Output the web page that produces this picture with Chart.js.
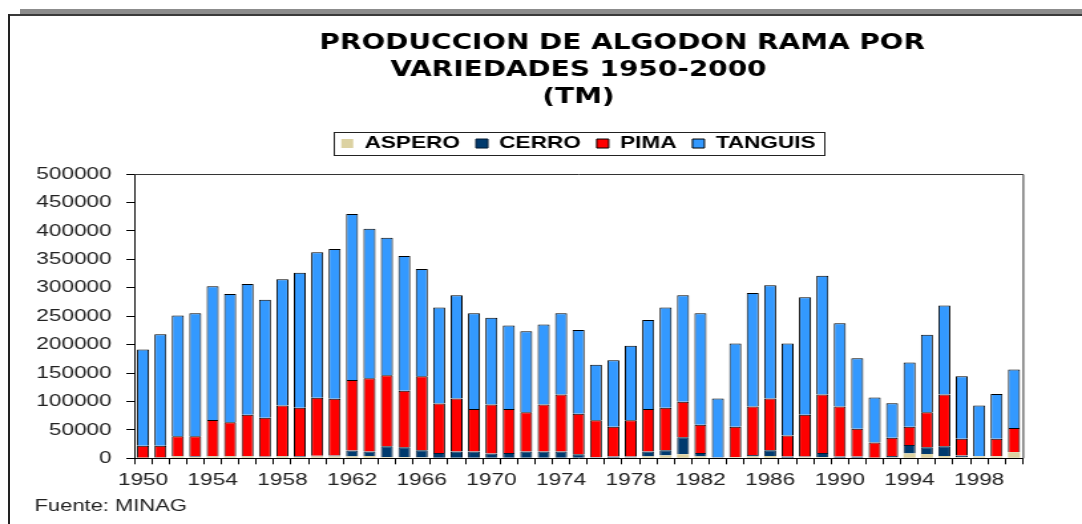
<!DOCTYPE html>
<html><head><meta charset="utf-8">
<script src="https://cdn.jsdelivr.net/npm/chart.js@4"></script>
<style>
html,body{margin:0;padding:0;background:#fff;overflow:hidden;width:1082px;height:524px;}
#wrap{position:absolute;left:0;top:0;width:814px;height:524px;transform:scaleX(1.32924);transform-origin:0 0;}
.f{position:absolute;}
</style></head><body>
<div id="wrap"><canvas id="c" width="814" height="524"></canvas></div>
<div class="f" style="left:20px;top:9px;width:1062px;height:5px;background:#8c8c8c"></div>
<div class="f" style="left:8px;top:14px;width:1074px;height:2px;background:#3a3a3a"></div>
<div class="f" style="left:8px;top:14px;width:2px;height:510px;background:#222"></div>
<script>
const years = ['1950','1951','1952','1953','1954','1955','1956','1957','1958','1959',
  '1960','1961','1962','1963','1964','1965','1966','1967','1968','1969',
  '1970','1971','1972','1973','1974','1975','1976','1977','1978','1979',
  '1980','1981','1982','1983','1984','1985','1986','1987','1988','1989',
  '1990','1991','1992','1993','1994','1995','1996','1997','1998','1999','2000'];
const aspero = [500,500,3000,2500,3000,3000,3000,2000,3000,2500,
  3000,3000,3000,4000,2000,2000,1500,1000,1000,1000,
  1000,1000,1000,1000,1000,1000,1000,1000,1500,3000,
  5000,7100,3000,1000,2000,3000,4000,1000,2000,2000,
  1000,1000,500,1500,8300,7700,4000,2000,3000,3000,10600];
const cerro = [500,1000,1000,1000,1000,1000,1000,1000,1000,1000,
  1500,2000,10600,7800,19300,17500,12700,8500,10900,10900,
  7300,8500,10900,10900,10900,6100,1000,2000,1500,8900,
  9200,30100,6500,1000,500,3000,10200,2000,1000,7500,
  2000,2000,500,2500,15300,11800,17300,3000,500,500,500];
const pima = [21000,20500,35000,35500,63400,59300,72800,68500,88800,85200,
  101900,99600,124100,128800,124700,99300,130000,86800,93300,75000,
  86200,77400,69100,82600,100300,71400,64800,52500,63800,75000,
  74500,62100,49500,0,53000,85000,91000,37200,73800,102700,
  88000,49000,26800,32000,31900,61500,90900,29300,0,30800,42100];
const tanguis = [169500,196000,212000,216000,235200,225700,229900,207500,222200,237500,
  255900,263600,291900,263100,241800,237000,188600,169100,181500,168400,
  152500,146600,142400,140800,143100,147200,97600,117000,131200,156500,
  176700,187400,196300,103200,146600,199800,199200,161900,206400,208700,
  146600,124100,79200,61000,112900,136500,156700,109900,89300,78700,102800];
const seriesNames = ['ASPERO','CERRO','PIMA','TANGUIS'];
const titleLines = ['         PRODUCCION DE ALGODON RAMA POR','VARIEDADES 1950-2000','(TM)'];
const sourceText = 'Fuente: MINAG';

Chart.defaults.font.family = "'Liberation Sans', Arial, sans-serif";

const legendGap = {
  id: 'legendGap',
  beforeInit(chart) {
    const lg = chart.legend;
    if (!lg) return;
    const fit = lg.fit;
    lg.fit = function () { fit.call(this); this.height += 12; };
  }
};

const framePlugin = {
  id: 'frame',
  afterDraw(chart) {
    const ctx = chart.ctx, a = chart.chartArea;
    ctx.save();
    ctx.strokeStyle = '#333';
    ctx.lineWidth = 1;
    ctx.beginPath();
    ctx.moveTo(a.left, a.top + 0.5);
    ctx.lineTo(a.right + 0.5, a.top + 0.5);
    ctx.lineTo(a.right + 0.5, a.bottom);
    ctx.stroke();
    const hb = chart.legend.legendHitBoxes;
    if (hb && hb.length) {
      const l = Math.min(...hb.map(h => h.left));
      const r = Math.max(...hb.map(h => h.left + h.width));
      const cy = hb[0].top + hb[0].height / 2;
      ctx.strokeStyle = '#222';
      ctx.strokeRect(Math.round(l - 6) + 0.5, Math.round(cy - 11.5) + 0.5, Math.round(r - l + 12), 23);
    }
    ctx.fillStyle = '#222';
    ctx.font = "16.5px 'Liberation Sans', Arial, sans-serif";
    ctx.textBaseline = 'middle';
    ctx.textAlign = 'left';
    ctx.fillText(sourceText, 26, 506);
    ctx.restore();
  }
};

new Chart(document.getElementById('c'), {
  type: 'bar',
  data: {
    labels: years,
    datasets: [
      {label: seriesNames[0], data: aspero, backgroundColor: '#DCD2A2', borderWidth: 0},
      {label: seriesNames[1], data: cerro, backgroundColor: '#003A6E', borderColor: '#001a33', borderWidth: 1},
      {label: seriesNames[2], data: pima, backgroundColor: '#FF0000', borderColor: '#000', borderWidth: 1},
      {label: seriesNames[3], data: tanguis, backgroundColor: '#3399FF', borderColor: '#000', borderWidth: 1}
    ]
  },
  options: {
    responsive: false,
    animation: false,
    devicePixelRatio: 1,
    layout: {padding: {top: 30, left: 16.3, right: 44.6, bottom: 27.3}},
    datasets: {bar: {barPercentage: 0.69, categoryPercentage: 1.0}},
    plugins: {
      title: {
        display: true, fullSize: false, text: titleLines, color: '#000',
        font: {family: "'DejaVu Sans', Verdana, sans-serif", weight: 'bold', size: 21, lineHeight: 1.286},
        padding: {top: 0, bottom: 12}
      },
      legend: {
        display: true, fullSize: false, position: 'top',
        labels: {boxWidth: 9, boxHeight: 9, padding: 12, color: '#000',
          font: {size: 17, weight: 'bold'}}
      },
      tooltip: {enabled: false}
    },
    scales: {
      x: {
        stacked: true,
        grid: {offset: true, drawOnChartArea: false, tickLength: 6, color: '#000'},
        border: {color: '#000', width: 1},
        ticks: {autoSkip: false, maxRotation: 0, minRotation: 0, padding: 6, color: '#222',
          font: {size: 17},
          callback: (v, i) => (i % 4 === 0 ? years[i] : '')}
      },
      y: {
        stacked: true, min: 0, max: 500000,
        grid: {drawOnChartArea: false, tickLength: 6, color: '#000'},
        border: {color: '#000', width: 1},
        ticks: {stepSize: 50000, padding: 11, color: '#222', font: {size: 17},
          callback: v => String(v)}
      }
    }
  },
  plugins: [legendGap, framePlugin]
});
</script>
</body></html>
